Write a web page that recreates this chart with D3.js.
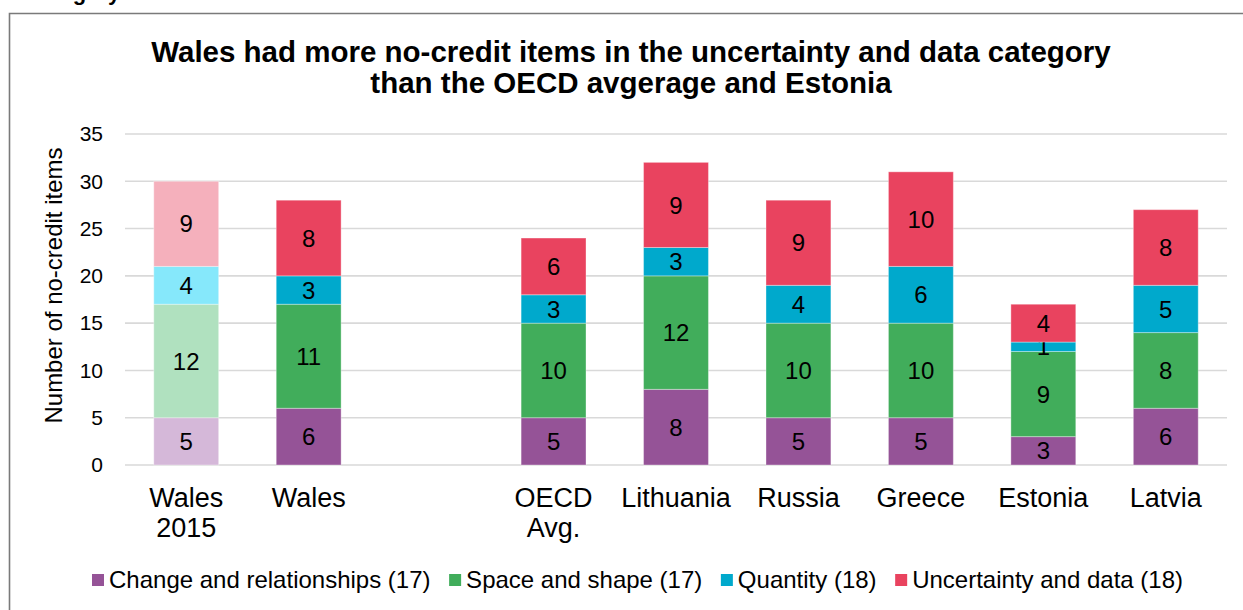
<!DOCTYPE html>
<html>
<head>
<meta charset="utf-8">
<script src="https://cdn.jsdelivr.net/npm/d3@7"></script>
<style>
  html, body { margin: 0; padding: 0; background: #fff; }
  svg { display: block; font-family: "Liberation Sans", Arial, sans-serif; }
</style>
</head>
<body>
<svg id="chart" width="1243" height="610"></svg>
<script>
// ---- Data ----
const categories = ["Wales 2015", "Wales", "", "OECD Avg.", "Lithuania", "Russia", "Greece", "Estonia", "Latvia"];
const categoryLines = [["Wales", "2015"], ["Wales"], [], ["OECD", "Avg."], ["Lithuania"], ["Russia"], ["Greece"], ["Estonia"], ["Latvia"]];
const seriesNames = ["Change and relationships (17)", "Space and shape (17)", "Quantity (18)", "Uncertainty and data (18)"];
const changeValues      = [5, 6, null, 5, 8, 5, 5, 3, 6];
const spaceValues       = [12, 11, null, 10, 12, 10, 10, 9, 8];
const quantityValues    = [4, 3, null, 3, 3, 4, 6, 1, 5];
const uncertaintyValues = [9, 8, null, 6, 9, 9, 10, 4, 8];
const yTicks = [0, 5, 10, 15, 20, 25, 30, 35];
const titleLines = ["Wales had more no-credit items in the uncertainty and data category", "than the OECD avgerage and Estonia"];
const yAxisTitle = "Number of no-credit items";
const headingFragment = "Category";

// ---- Styles ----
const colors = ["#955397", "#41AD5B", "#00A9CC", "#E9435F"];
const fadedColors = ["#D5B8D9", "#B0E1BF", "#86E8FB", "#F5B0BC"];
const fadedIndex = 0;

const svg = d3.select("#chart");
const W = 1243, H = 610;
const plot = { left: 125, right: 1227, top: 134, bottom: 465 };

// cropped heading above the frame (only its lowest pixels show)
svg.append("text")
  .attr("x", 25).attr("y", 0)
  .attr("font-size", 22).attr("font-weight", "bold")
  .attr("fill", "#000")
  .text(headingFragment);

// frame
svg.append("path")
  .attr("d", `M9.5,${H + 2} L9.5,13.5 L${W + 2},13.5`)
  .attr("fill", "none").attr("stroke", "#7a7a7a").attr("stroke-width", 1.6);

// title
const title = svg.append("text")
  .attr("text-anchor", "middle")
  .attr("font-size", 29.5).attr("font-weight", "bold").attr("fill", "#000");
titleLines.forEach((t, i) => {
  title.append("tspan").attr("x", 631).attr("y", 62 + i * 31).text(t);
});

// scales
const x = d3.scaleBand().domain(d3.range(categories.length))
  .range([plot.left, plot.right]).paddingInner(0.47).paddingOuter(0.235);
const y = d3.scaleLinear().domain([0, 35]).range([plot.bottom, plot.top]);

// gridlines
svg.append("g").selectAll("line").data(yTicks).join("line")
  .attr("x1", plot.left).attr("x2", plot.right)
  .attr("y1", d => y(d)).attr("y2", d => y(d))
  .attr("stroke", "#d9d9d9").attr("stroke-width", 1.6);

// y axis labels
const yAxis = d3.axisLeft(y).tickValues(yTicks).tickSize(0).tickPadding(22);
const yg = svg.append("g").attr("transform", `translate(${plot.left},0)`).call(yAxis);
yg.select(".domain").remove();
yg.selectAll("text").attr("font-size", 21).attr("fill", "#000")
  .attr("font-family", "Liberation Sans, Arial, sans-serif");

// y axis title
svg.append("text")
  .attr("transform", `translate(62,${(plot.top + plot.bottom) / 2 - 14}) rotate(-90)`)
  .attr("text-anchor", "middle").attr("font-size", 24).attr("fill", "#000")
  .text(yAxisTitle);

// stacked data
const rows = categories.map((c, i) => ({
  idx: i,
  v0: changeValues[i], v1: spaceValues[i], v2: quantityValues[i], v3: uncertaintyValues[i]
}));
const stack = d3.stack().keys(["v0", "v1", "v2", "v3"]).value((d, k) => d[k] == null ? 0 : d[k]);
const stacked = stack(rows);

stacked.forEach((layer, si) => {
  const g = svg.append("g");
  const segs = layer.filter(d => d.data["v" + si] != null && d.data["v" + si] > 0);
  g.selectAll("rect").data(segs).join("rect")
    .attr("x", d => x(d.data.idx))
    .attr("width", x.bandwidth())
    .attr("y", d => y(d[1]))
    .attr("height", d => y(d[0]) - y(d[1]))
    .attr("fill", d => d.data.idx === fadedIndex ? fadedColors[si] : colors[si])
    .attr("stroke", "rgba(255,255,255,0.35)").attr("stroke-width", 1);
  g.selectAll("text").data(segs).join("text")
    .attr("x", d => x(d.data.idx) + x.bandwidth() / 2)
    .attr("y", d => (y(d[0]) + y(d[1])) / 2)
    .attr("dy", "0.36em")
    .attr("text-anchor", "middle").attr("font-size", 24).attr("fill", "#000")
    .text(d => d.data["v" + si]);
});

// category labels
const xg = svg.append("g");
categoryLines.forEach((lines, i) => {
  const t = xg.append("text").attr("text-anchor", "middle")
    .attr("font-size", 27).attr("fill", "#000");
  lines.forEach((ln, j) => {
    t.append("tspan").attr("x", x(i) + x.bandwidth() / 2).attr("y", 507 + j * 30).text(ln);
  });
});

// legend: laid out sequentially between x=92 and x=1183
const lg = svg.append("g");
const sq = 12, sqGap = 5;
const items = seriesNames.map((name, i) => {
  const g = lg.append("g");
  g.append("rect").attr("y", 574).attr("width", sq).attr("height", sq).attr("fill", colors[i]);
  const t = g.append("text").attr("x", sq + sqGap).attr("y", 588)
    .attr("font-size", 24).attr("fill", "#000").text(name);
  return { g, w: sq + sqGap + t.node().getComputedTextLength() };
});
const legStart = 92, legEnd = 1183;
const totalW = d3.sum(items, d => d.w);
const gap = (legEnd - legStart - totalW) / (items.length - 1);
let cx = legStart;
items.forEach(it => {
  it.g.attr("transform", `translate(${cx},0)`);
  cx += it.w + gap;
});
</script>
</body>
</html>
